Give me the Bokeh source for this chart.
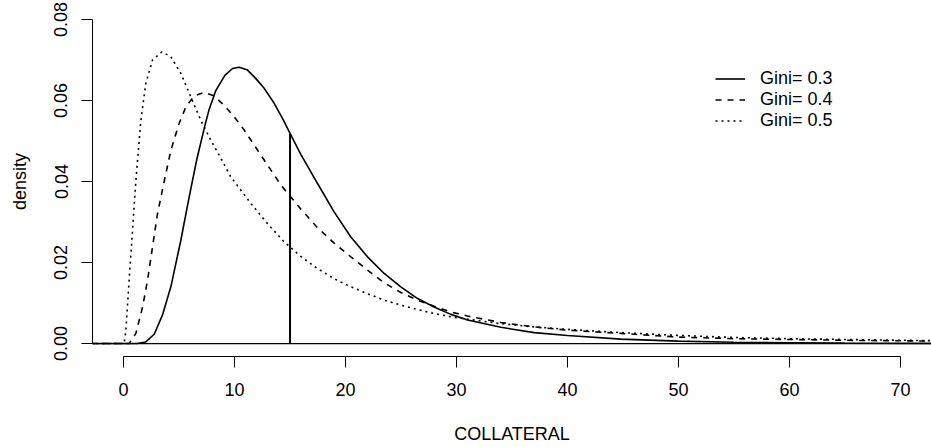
from bokeh.plotting import figure
from bokeh.models import (Range1d, FixedTicker, NumeralTickFormatter, Span, Legend, LegendItem)
from bokeh.embed import file_html
from bokeh.resources import INLINE

# ---- data ----
x_g03 = [-3, 1.2, 2.0, 2.76, 3.5, 4.26, 5.16, 5.9, 6.6, 7.3, 7.71, 8.32, 9.13, 9.82, 10.42, 11.17,
         11.92, 12.67, 13.57, 14.32, 15.0, 15.97, 17.48, 18.97, 20.48, 21.98, 23.48, 24.98, 26.49,
         27.98, 29.49, 31.0, 34.0, 37.0, 40.0, 44.8, 50, 55, 60, 65, 73]
y_g03 = [0, 0, 0.0004, 0.0023, 0.0070, 0.0140, 0.0255, 0.0360, 0.0455, 0.0535, 0.0578, 0.0625,
         0.0662, 0.0679, 0.0682, 0.0675, 0.0654, 0.0630, 0.0593, 0.0556, 0.0519, 0.0467, 0.0395,
         0.0325, 0.0263, 0.0214, 0.0173, 0.0140, 0.0111, 0.0090, 0.0072, 0.0058, 0.0040, 0.0027,
         0.0020, 0.0011, 0.0006, 0.0003, 0.0002, 0.0001, 0.00005]

x_g04 = [-3, 0.5, 1.11, 1.71, 2.16, 2.61, 3.06, 3.66, 4.26, 5.0, 5.61, 6.36, 7.26, 8.16, 9.06,
         9.96, 10.87, 11.77, 12.67, 13.57, 14.17, 15.07, 15.97, 17.48, 18.97, 20.48, 21.98, 23.48,
         24.98, 26.49, 27.98, 29.49, 30.99, 34, 37, 40, 44.8, 50, 55, 60, 65, 73]
y_g04 = [0, 0, 0.0025, 0.0090, 0.0156, 0.0239, 0.0321, 0.0400, 0.0477, 0.0543, 0.0584, 0.0611,
         0.0620, 0.0611, 0.0588, 0.0560, 0.0527, 0.0490, 0.0453, 0.0416, 0.0391, 0.0362, 0.0332,
         0.0286, 0.0248, 0.0214, 0.0181, 0.0150, 0.0126, 0.0107, 0.0092, 0.0078, 0.0068, 0.0052,
         0.0041, 0.0033, 0.0025, 0.0016, 0.0012, 0.0010, 0.0008, 0.0006]

x_g05 = [-3, 0.05, 0.2, 0.5, 0.81, 1.1, 1.56, 2.0, 2.61, 3.45, 4.26, 5.16, 6.06, 6.96, 7.86, 8.77,
         9.67, 11.47, 12.97, 14.47, 15.97, 17.48, 18.97, 20.48, 21.98, 23.48, 24.98, 26.49, 27.98,
         29.49, 31, 34, 37, 40, 44.8, 50, 55, 60, 65, 73]
y_g05 = [0, 0, 0.0030, 0.0156, 0.0280, 0.0400, 0.0551, 0.0642, 0.0700, 0.0720, 0.0708, 0.0667,
         0.0609, 0.0551, 0.0502, 0.0457, 0.0411, 0.0346, 0.0296, 0.0251, 0.0215, 0.0185, 0.0160,
         0.0140, 0.0123, 0.0107, 0.0095, 0.0084, 0.0074, 0.0066, 0.0060, 0.0049, 0.0041, 0.0035,
         0.0027, 0.0020, 0.0015, 0.0012, 0.0010, 0.0007]

series_labels = ["Gini= 0.3", "Gini= 0.4", "Gini= 0.5"]
mean_x = [15]
mean_density = [0.0517]
baseline_y = 0

x_ticks = [0, 10, 20, 30, 40, 50, 60, 70]
y_ticks = [0.00, 0.02, 0.04, 0.06, 0.08]
x_label = "COLLATERAL"
y_label = "density"

FONT = "Liberation Sans"

p = figure(width=931, height=447, output_backend="svg", toolbar_location=None, title=None,
           x_range=Range1d(-2.8, 72.8), y_range=Range1d(-0.0032, 0.0832),
           min_border_left=92, min_border_right=0, min_border_top=6, min_border_bottom=91)
p.outline_line_color = None
p.xgrid.visible = False
p.ygrid.visible = False
p.background_fill_color = "white"
p.border_fill_color = "white"

for ax in (p.xaxis[0], p.yaxis[0]):
    ax.axis_line_color = "black"
    ax.axis_line_width = 1
    ax.major_tick_line_color = "black"
    ax.major_tick_line_width = 1
    ax.major_tick_out = 11
    ax.major_tick_in = 0
    ax.minor_tick_line_color = None
    ax.major_label_text_font = FONT
    ax.major_label_text_font_size = "18px"
    ax.major_label_text_color = "black"
    ax.axis_label_text_font = FONT
    ax.axis_label_text_font_size = "18px"
    ax.axis_label_text_font_style = "normal"
    ax.axis_label_text_color = "black"

xa = p.xaxis[0]
xa.ticker = FixedTicker(ticks=x_ticks)
xa.bounds = (x_ticks[0], x_ticks[-1])
xa.major_label_standoff = 15
xa.axis_label = x_label
xa.axis_label_standoff = 25

ya = p.yaxis[0]
ya.ticker = FixedTicker(ticks=y_ticks)
ya.bounds = (y_ticks[0], y_ticks[-1])
ya.formatter = NumeralTickFormatter(format="0.00")
ya.major_label_orientation = "vertical"
ya.major_label_standoff = 14
ya.axis_label = y_label
ya.axis_label_standoff = 22

p.add_layout(Span(location=baseline_y, dimension="width", line_color="black", line_width=1.2))

r1 = p.line(x_g03, y_g03, line_color="black", line_width=1.6)
r2 = p.line(x_g04, y_g04, line_color="black", line_width=1.6, line_dash="6 6")
r3 = p.line(x_g05, y_g05, line_color="black", line_width=1.6, line_dash="2 4")

p.segment(x0=mean_x, y0=[baseline_y], x1=mean_x, y1=mean_density, line_color="black", line_width=2)

legend = Legend(items=[LegendItem(label=series_labels[0], renderers=[r1]),
                       LegendItem(label=series_labels[1], renderers=[r2]),
                       LegendItem(label=series_labels[2], renderers=[r3])],
                location=(623, 225), orientation="vertical",
                glyph_width=30, glyph_height=21, label_height=21, label_standoff=15,
                spacing=0, padding=0, margin=0,
                label_text_font=FONT, label_text_font_size="18px", label_text_color="black",
                border_line_color=None, background_fill_alpha=0)
p.add_layout(legend)

open("out.html", "w").write(file_html(p, INLINE))
